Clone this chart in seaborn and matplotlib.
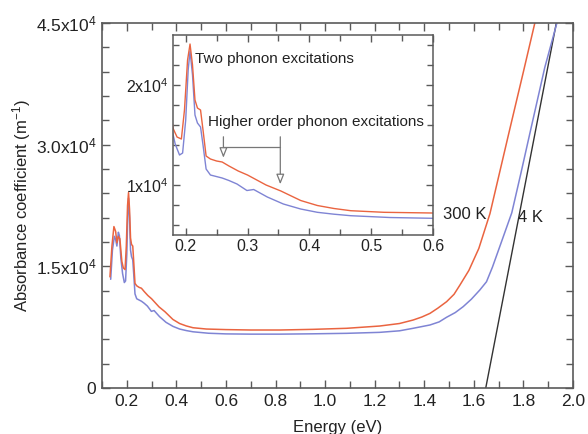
import matplotlib
matplotlib.use("Agg")
import matplotlib.pyplot as plt
import seaborn as sns
import pandas as pd
from matplotlib.ticker import FixedLocator, MultipleLocator

# Absorbance of the sample at 300 K: photon energy (eV) and coefficient (m^-1)
energy_300K = [0.132, 0.140, 0.148, 0.155, 0.160, 0.166, 0.172, 0.180, 0.186, 0.193,
               0.198, 0.203, 0.207, 0.211, 0.215, 0.219, 0.224, 0.228, 0.233, 0.240,
               0.250, 0.259, 0.270, 0.285, 0.300, 0.315, 0.330, 0.354, 0.386, 0.413,
               0.440, 0.467, 0.521, 0.600, 0.700, 0.818, 0.950, 1.087, 1.220, 1.300,
               1.355, 1.390, 1.423, 1.455, 1.490, 1.520, 1.544, 1.580, 1.620, 1.665,
               1.741, 1.800, 1.846, 1.870]
alpha_300K = [13700, 17500, 19900, 19300, 17900, 18700, 18400, 15600, 14800, 14600,
              17500, 22500, 24100, 22000, 18500, 17700, 17500, 15500, 12900, 12600,
              12400, 12300, 11900, 11400, 11000, 10500, 10000, 9400, 8450, 7950,
              7650, 7430, 7270, 7200, 7150, 7150, 7230, 7360, 7640, 7950,
              8380, 8750, 9200, 9850, 10640, 11550, 12700, 14500, 17200, 21500,
              31400, 39000, 45000, 48500]

# Absorbance of the sample at 4 K
energy_4K = [0.135, 0.142, 0.150, 0.155, 0.160, 0.166, 0.170, 0.176, 0.183, 0.190,
             0.195, 0.200, 0.204, 0.207, 0.211, 0.215, 0.219, 0.224, 0.228, 0.233,
             0.240, 0.259, 0.270, 0.283, 0.299, 0.310, 0.332, 0.358, 0.386, 0.413,
             0.440, 0.467, 0.530, 0.600, 0.700, 0.818, 0.950, 1.087, 1.220, 1.300,
             1.355, 1.423, 1.460, 1.490, 1.525, 1.557, 1.590, 1.624, 1.651, 1.675,
             1.710, 1.753, 1.790, 1.826, 1.886, 1.935, 1.960]
alpha_4K = [13400, 17000, 18700, 18300, 17500, 19200, 18800, 16000, 14100, 13000,
            13200, 16500, 21500, 23400, 21000, 17000, 16200, 15800, 14000, 11600,
            11000, 10700, 10450, 10100, 9450, 9550, 8800, 8100, 7600, 7270,
            7080, 6930, 6750, 6670, 6640, 6640, 6680, 6740, 6860, 7050,
            7360, 7770, 8150, 8720, 9300, 10030, 10950, 12080, 13100, 14900,
            17900, 21600, 26500, 31400, 39500, 45000, 48000]

# Linear fit to the 4 K absorption edge
energy_edge = [1.648, 1.960]
alpha_edge = [0, 49300]

main_xticks = [0.2, 0.4, 0.6, 0.8, 1.0, 1.2, 1.4, 1.6, 1.8, 2.0]
main_xticklabels = ["0.2", "0.4", "0.6", "0.8", "1.0", "1.2", "1.4", "1.6", "1.8", "2.0"]
main_yticks = [0, 15000, 30000, 45000]
main_yticklabels = ["0", "1.5x10$^4$", "3.0x10$^4$", "4.5x10$^4$"]
inset_xticks = [0.2, 0.3, 0.4, 0.5, 0.6]
inset_xticklabels = ["0.2", "0.3", "0.4", "0.5", "0.6"]
inset_yticks = [10000, 20000]
inset_yticklabels = ["1x10$^4$", "2x10$^4$"]

RED = "#ea6440"
BLUE = "#7f84d4"
SPINE = "#5a5a5a"

sns.set_theme(style="ticks")
plt.rcParams["font.family"] = ["Liberation Sans", "DejaVu Sans"]
plt.rcParams["mathtext.fontset"] = "custom"
plt.rcParams["mathtext.rm"] = "Liberation Sans"
plt.rcParams["mathtext.it"] = "Liberation Sans:italic"
plt.rcParams["mathtext.bf"] = "Liberation Sans:bold"

df300 = pd.DataFrame({"Energy": energy_300K, "alpha": alpha_300K})
df4 = pd.DataFrame({"Energy": energy_4K, "alpha": alpha_4K})
dfedge = pd.DataFrame({"Energy": energy_edge, "alpha": alpha_edge})

fig = plt.figure(figsize=(5.88, 4.34), dpi=100)
fig.patch.set_facecolor("white")
ax = fig.add_axes([0.1735, 0.106, 0.801, 0.841])


def style_axes(a, lw=1.2):
    for s in a.spines.values():
        s.set_color(SPINE)
        s.set_linewidth(lw)
        s.set_visible(True)
    a.tick_params(which="both", direction="in", top=True, right=True,
                  color=SPINE, width=1.0, pad=4)


sns.lineplot(data=dfedge, x="Energy", y="alpha", ax=ax, color="#333333",
             linewidth=1.0, estimator=None, sort=False)
sns.lineplot(data=df4, x="Energy", y="alpha", ax=ax, color=BLUE,
             linewidth=1.1, estimator=None, sort=False)
sns.lineplot(data=df300, x="Energy", y="alpha", ax=ax, color=RED,
             linewidth=1.1, estimator=None, sort=False)

ax.set_xlim(0.1, 2.0)
ax.set_ylim(0, 45000)
style_axes(ax)
ax.xaxis.set_major_locator(FixedLocator(main_xticks))
ax.set_xticklabels(main_xticklabels, fontsize=12.5, color="#222222")
ax.xaxis.set_minor_locator(MultipleLocator(0.1))
ax.yaxis.set_major_locator(FixedLocator(main_yticks))
ax.set_yticklabels(main_yticklabels, fontsize=12.5, color="#222222")
ax.yaxis.set_minor_locator(MultipleLocator(3000))
ax.tick_params(which="major", length=6)
ax.tick_params(which="minor", length=5)
ax.set_xlabel("Energy (eV)", fontsize=12, color="#222222", labelpad=8)
ax.set_ylabel("Absorbance coefficient (m$^{-1}$)", fontsize=12,
              color="#222222", labelpad=2)

ax.text(1.475, 21400, "300 K", fontsize=12, color="#222222", va="center", ha="left")
ax.text(1.777, 21000, "4 K", fontsize=12, color="#222222", va="center", ha="left")

# Inset: zoom on the phonon absorption region
ins = fig.add_axes([0.2948, 0.4585, 0.4416, 0.4608])
ins.set_facecolor("white")
sns.lineplot(data=df4, x="Energy", y="alpha", ax=ins, color=BLUE,
             linewidth=1.0, estimator=None, sort=False)
sns.lineplot(data=df300, x="Energy", y="alpha", ax=ins, color=RED,
             linewidth=1.0, estimator=None, sort=False)
ins.set_xlim(0.18, 0.6)
ins.set_ylim(5000, 25000)
style_axes(ins, lw=1.1)
ins.xaxis.set_major_locator(FixedLocator(inset_xticks))
ins.set_xticklabels(inset_xticklabels, fontsize=11.5, color="#222222")
ins.xaxis.set_minor_locator(MultipleLocator(0.05))
ins.yaxis.set_major_locator(FixedLocator(inset_yticks))
ins.set_yticklabels(inset_yticklabels, fontsize=11.5, color="#222222")
ins.yaxis.set_minor_locator(MultipleLocator(2000))
ins.tick_params(which="major", length=5, pad=3)
ins.tick_params(which="minor", length=4)
ins.set_xlabel("")
ins.set_ylabel("")

ins.text(0.215, 22600, "Two phonon excitations", fontsize=11,
         color="#222222", va="center", ha="left")
ins.text(0.236, 16350, "Higher order phonon excitations", fontsize=11,
         color="#222222", va="center", ha="left")
ins.plot([0.261, 0.353], [13800, 13800], color="#777777", linewidth=0.9)
arrow_style = dict(arrowstyle="-|>,head_length=0.5,head_width=0.2",
                   color="#777777", lw=0.9, fc="white")
ins.annotate("", xy=(0.261, 12450), xytext=(0.261, 15100), arrowprops=arrow_style)
ins.annotate("", xy=(0.353, 9800), xytext=(0.353, 15100), arrowprops=arrow_style)

fig.savefig("out.png", dpi=100, facecolor="white")
